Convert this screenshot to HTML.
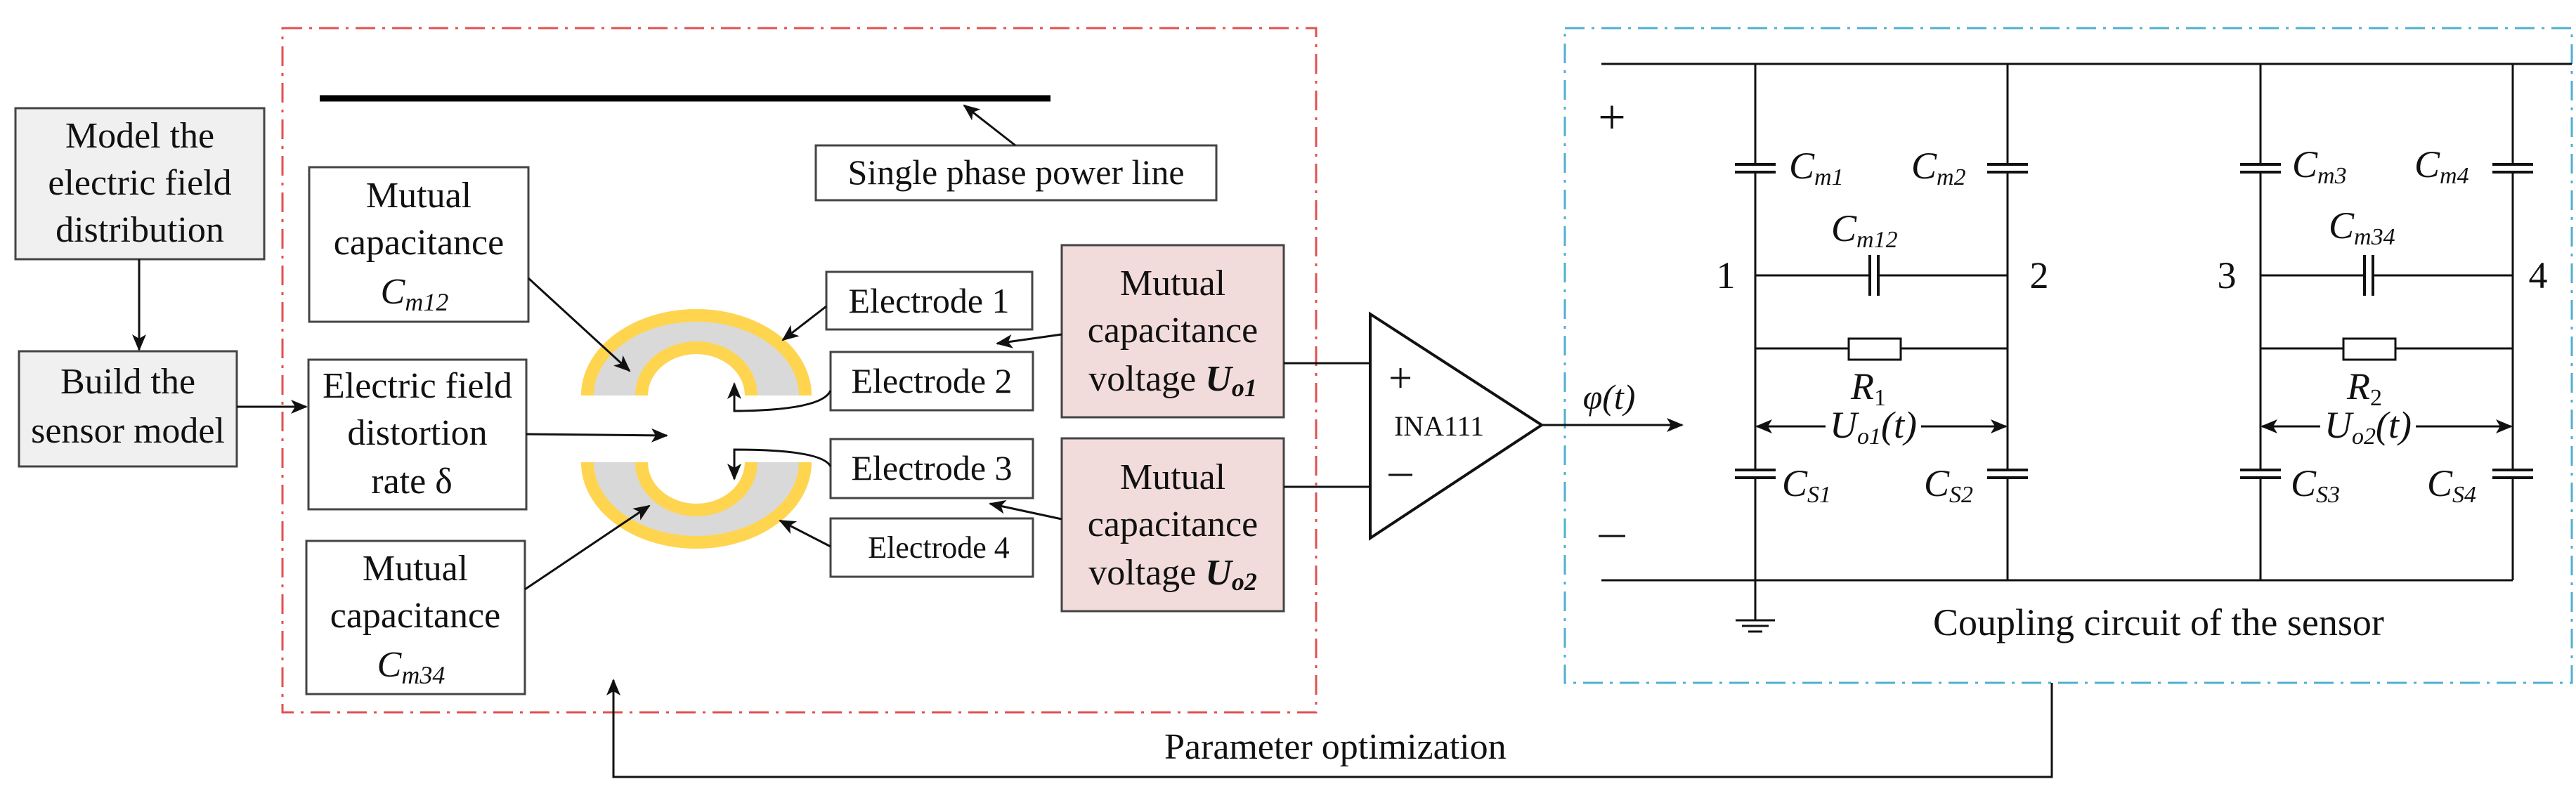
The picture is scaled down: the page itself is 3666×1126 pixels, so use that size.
<!DOCTYPE html>
<html><head><meta charset="utf-8"><style>
html,body{margin:0;padding:0;background:#fff}
svg{display:block}
text{font-family:"Liberation Serif",serif;fill:#111}
</style></head><body>
<svg width="3666" height="1126" viewBox="0 0 3666 1126" xmlns="http://www.w3.org/2000/svg">
<defs>
<marker id="ar" viewBox="0 0 12 10" refX="11" refY="5" markerWidth="24" markerHeight="20" orient="auto" markerUnits="userSpaceOnUse">
<path d="M0,0 L12,5 L0,10 L3,5 z" fill="#111"/>
</marker>
<marker id="ar2" viewBox="0 0 12 10" refX="11" refY="5" markerWidth="24" markerHeight="20" orient="auto-start-reverse" markerUnits="userSpaceOnUse">
<path d="M0,0 L12,5 L0,10 L3,5 z" fill="#111"/>
</marker>
</defs>
<rect x="402" y="40" width="1471" height="974" fill="none" stroke="#e05050" stroke-width="3" stroke-dasharray="28,10,4,10"/>
<rect x="2227" y="40" width="1433" height="932" fill="none" stroke="#4fb0d0" stroke-width="3" stroke-dasharray="28,10,4,10"/>

<line x1="455" y1="140" x2="1495" y2="140" stroke="#000" stroke-width="9"/>
<rect x="1161" y="207" width="570" height="78" fill="#fff" stroke="#444" stroke-width="3"/>
<text x="1446" y="262" font-size="50" text-anchor="middle">Single phase power line</text>
<line x1="1445" y1="207" x2="1372" y2="150" stroke="#111" stroke-width="3" marker-end="url(#ar)"/>

<rect x="22" y="154" width="354" height="215" fill="#f0f0f0" stroke="#444" stroke-width="3"/>
<text font-size="52" text-anchor="middle"><tspan x="199" y="210">Model the</tspan><tspan x="199" y="277">electric field</tspan><tspan x="199" y="344">distribution</tspan></text>
<rect x="27" y="500" width="310" height="164" fill="#f0f0f0" stroke="#444" stroke-width="3"/>
<text font-size="52" text-anchor="middle"><tspan x="182" y="560">Build the</tspan><tspan x="182" y="630">sensor model</tspan></text>
<line x1="198" y1="369" x2="198" y2="498" stroke="#111" stroke-width="3" marker-end="url(#ar)"/>
<line x1="337" y1="579" x2="436" y2="579" stroke="#111" stroke-width="3" marker-end="url(#ar)"/>

<rect x="440" y="238" width="312" height="220" fill="#fff" stroke="#444" stroke-width="3"/>
<text font-size="52" text-anchor="middle"><tspan x="596" y="295">Mutual</tspan><tspan x="596" y="362">capacitance</tspan><tspan x="590" y="432" font-style="italic">C<tspan font-size="36" dy="10">m12</tspan></tspan></text>
<rect x="439" y="512" width="310" height="213" fill="#fff" stroke="#444" stroke-width="3"/>
<text font-size="52" text-anchor="middle"><tspan x="594" y="566">Electric field</tspan><tspan x="594" y="633">distortion</tspan><tspan x="586" y="702">rate δ</tspan></text>
<rect x="436" y="770" width="311" height="218" fill="#fff" stroke="#444" stroke-width="3"/>
<text font-size="52" text-anchor="middle"><tspan x="591" y="826">Mutual</tspan><tspan x="591" y="893">capacitance</tspan><tspan x="585" y="963" font-style="italic">C<tspan font-size="36" dy="10">m34</tspan></tspan></text>

<path d="M827,563 A164,123 0 0 1 1155,563 L1060,563 A69,59 0 0 0 922,563 Z" fill="#d9d9d9"/>
<path d="M836,563 A155,114 0 0 1 1146,563" fill="none" stroke="#ffd54f" stroke-width="18"/>
<path d="M913,563 A78,68 0 0 1 1069,563" fill="none" stroke="#ffd54f" stroke-width="18"/>
<path d="M827,658 A164,123 0 0 0 1155,658 L1060,658 A69,59 0 0 1 922,658 Z" fill="#d9d9d9"/>
<path d="M836,658 A155,114 0 0 0 1146,658" fill="none" stroke="#ffd54f" stroke-width="18"/>
<path d="M913,658 A78,68 0 0 0 1069,658" fill="none" stroke="#ffd54f" stroke-width="18"/>

<line x1="752" y1="396" x2="896" y2="528" stroke="#111" stroke-width="3" marker-end="url(#ar)"/>
<line x1="749" y1="618" x2="949" y2="620" stroke="#111" stroke-width="3" marker-end="url(#ar)"/>
<line x1="747" y1="839" x2="924" y2="720" stroke="#111" stroke-width="3" marker-end="url(#ar)"/>

<rect x="1176" y="387" width="293" height="82" fill="#fff" stroke="#444" stroke-width="3"/>
<text x="1322" y="445" font-size="50" text-anchor="middle">Electrode 1</text>
<rect x="1182" y="501" width="288" height="83" fill="#fff" stroke="#444" stroke-width="3"/>
<text x="1326" y="559" font-size="50" text-anchor="middle">Electrode 2</text>
<rect x="1182" y="625" width="288" height="84" fill="#fff" stroke="#444" stroke-width="3"/>
<text x="1326" y="683" font-size="50" text-anchor="middle">Electrode 3</text>
<rect x="1182" y="738" width="288" height="83" fill="#fff" stroke="#444" stroke-width="3"/>
<text x="1336" y="794" font-size="44" text-anchor="middle">Electrode 4</text>
<line x1="1176" y1="436" x2="1114" y2="484" stroke="#111" stroke-width="3" marker-end="url(#ar)"/>
<path d="M1182,556 Q1170,584 1045,585 L1045,546" fill="none" stroke="#111" stroke-width="3" marker-end="url(#ar)"/>
<path d="M1182,664 Q1170,640 1045,640 L1045,682" fill="none" stroke="#111" stroke-width="3" marker-end="url(#ar)"/>
<line x1="1182" y1="778" x2="1110" y2="741" stroke="#111" stroke-width="3" marker-end="url(#ar)"/>

<rect x="1511" y="349" width="316" height="245" fill="#f2dcdb" stroke="#444" stroke-width="3"/>
<text font-size="52" text-anchor="middle"><tspan x="1669" y="420">Mutual</tspan><tspan x="1669" y="487">capacitance</tspan><tspan x="1669" y="556">voltage <tspan font-style="italic" font-weight="bold">U<tspan font-size="36" dy="8">o1</tspan></tspan></tspan></text>
<rect x="1511" y="624" width="316" height="246" fill="#f2dcdb" stroke="#444" stroke-width="3"/>
<text font-size="52" text-anchor="middle"><tspan x="1669" y="696">Mutual</tspan><tspan x="1669" y="763">capacitance</tspan><tspan x="1669" y="832">voltage <tspan font-style="italic" font-weight="bold">U<tspan font-size="36" dy="8">o2</tspan></tspan></tspan></text>
<line x1="1511" y1="476" x2="1419" y2="489" stroke="#111" stroke-width="3" marker-end="url(#ar)"/>
<line x1="1511" y1="739" x2="1409" y2="717" stroke="#111" stroke-width="3" marker-end="url(#ar)"/>
<line x1="1827" y1="517" x2="1950" y2="517" stroke="#111" stroke-width="3"/>
<line x1="1827" y1="693" x2="1950" y2="693" stroke="#111" stroke-width="3"/>

<path d="M1950,447 L2194,605 L1950,766 Z" fill="#fff" stroke="#111" stroke-width="4"/>
<text x="1993" y="558" font-size="60" text-anchor="middle">+</text>
<line x1="1976" y1="676" x2="2010" y2="676" stroke="#111" stroke-width="3"/>
<text x="2048" y="620" font-size="40" text-anchor="middle">INA111</text>
<line x1="2194" y1="605" x2="2394" y2="605" stroke="#111" stroke-width="3" marker-end="url(#ar)"/>
<text x="2290" y="582" font-size="50" text-anchor="middle" font-style="italic">φ(t)</text>

<g stroke="#111" stroke-width="3" fill="none">
<line x1="2279" y1="91" x2="3660" y2="91"/>
<line x1="2279" y1="826" x2="3576" y2="826"/>
<line x1="2498" y1="91" x2="2498" y2="883"/>
<line x1="2857" y1="91" x2="2857" y2="826"/>
<line x1="3217" y1="91" x2="3217" y2="826"/>
<line x1="3576" y1="91" x2="3576" y2="826"/>
<line x1="2498" y1="392" x2="2857" y2="392"/>
<line x1="3217" y1="392" x2="3576" y2="392"/>
<line x1="2498" y1="496" x2="2857" y2="496"/>
<line x1="3217" y1="496" x2="3576" y2="496"/>
<line x1="2470" y1="883" x2="2526" y2="883"/>
<line x1="2479" y1="891" x2="2517" y2="891"/>
<line x1="2488" y1="899" x2="2508" y2="899"/>
<line x1="2500" y1="607" x2="2855" y2="607" marker-start="url(#ar2)" marker-end="url(#ar)"/>
<line x1="3219" y1="607" x2="3574" y2="607" marker-start="url(#ar2)" marker-end="url(#ar)"/>
</g>
<g fill="#fff" stroke="none">
<rect x="2485" y="236" width="26" height="8"/><rect x="2844" y="236" width="26" height="8"/>
<rect x="3204" y="236" width="26" height="8"/><rect x="3563" y="236" width="26" height="8"/>
<rect x="2485" y="671" width="26" height="8"/><rect x="2844" y="671" width="26" height="8"/>
<rect x="3204" y="671" width="26" height="8"/><rect x="3563" y="671" width="26" height="8"/>
<rect x="2661" y="380" width="12" height="26"/><rect x="3365" y="380" width="12" height="26"/>
</g>
<g stroke="#111" stroke-width="4">
<path d="M2469,234h58M2469,245h58M2828,234h58M2828,245h58M3188,234h58M3188,245h58M3547,234h58M3547,245h58"/>
<path d="M2469,669h58M2469,680h58M2828,669h58M2828,680h58M3188,669h58M3188,680h58M3547,669h58M3547,680h58"/>
<path d="M2661,363v58M2673,363v58M3365,363v58M3377,363v58"/>
</g>
<rect x="2631" y="482" width="74" height="30" fill="#fff" stroke="#111" stroke-width="3"/>
<rect x="3335" y="482" width="74" height="30" fill="#fff" stroke="#111" stroke-width="3"/>
<rect x="2598" y="582" width="136" height="48" fill="#fff"/>
<rect x="3302" y="582" width="136" height="48" fill="#fff"/>

<g font-size="54" font-style="italic">
<text x="2546" y="254">C<tspan font-size="34" dy="9">m1</tspan></text>
<text x="2720" y="254">C<tspan font-size="34" dy="9">m2</tspan></text>
<text x="3262" y="252">C<tspan font-size="34" dy="9">m3</tspan></text>
<text x="3436" y="252">C<tspan font-size="34" dy="9">m4</tspan></text>
<text x="2606" y="343">C<tspan font-size="34" dy="9">m12</tspan></text>
<text x="3314" y="339">C<tspan font-size="34" dy="9">m34</tspan></text>
<text x="2634" y="568">R<tspan font-size="34" dy="9" font-style="normal">1</tspan></text>
<text x="3340" y="568">R<tspan font-size="34" dy="9" font-style="normal">2</tspan></text>
<text x="2666" y="623" text-anchor="middle">U<tspan font-size="34" dy="9">o1</tspan><tspan dy="-9">(t)</tspan></text>
<text x="3370" y="623" text-anchor="middle">U<tspan font-size="34" dy="9">o2</tspan><tspan dy="-9">(t)</tspan></text>
<text x="2536" y="706">C<tspan font-size="34" dy="9">S1</tspan></text>
<text x="2738" y="706">C<tspan font-size="34" dy="9">S2</tspan></text>
<text x="3260" y="706">C<tspan font-size="34" dy="9">S3</tspan></text>
<text x="3454" y="706">C<tspan font-size="34" dy="9">S4</tspan></text>
</g>
<g font-size="54">
<text x="2456" y="410" text-anchor="middle">1</text>
<text x="2902" y="410" text-anchor="middle">2</text>
<text x="3169" y="410" text-anchor="middle">3</text>
<text x="3612" y="410" text-anchor="middle">4</text>
</g>
<text x="2294" y="190" font-size="70" text-anchor="middle">+</text>
<line x1="2275" y1="763" x2="2313" y2="763" stroke="#111" stroke-width="3"/>
<text x="2751" y="904" font-size="54">Coupling circuit of the sensor</text>

<path d="M2920,972 L2920,1106 L873,1106 L873,968" fill="none" stroke="#111" stroke-width="3" marker-end="url(#ar)"/>
<text x="1657" y="1080" font-size="52">Parameter optimization</text>
</svg>
</body></html>
